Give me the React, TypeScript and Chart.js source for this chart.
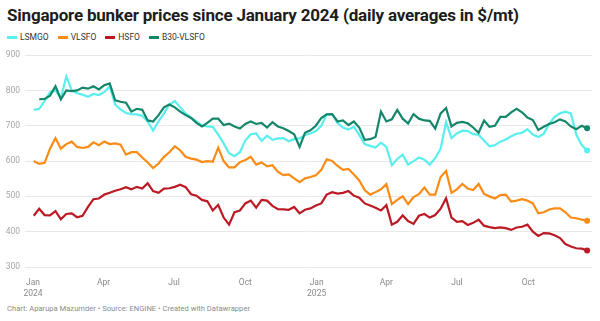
import React, { useEffect, useRef } from "react";
import { Chart, registerables } from "chart.js";

Chart.register(...registerables);

// days since 2024-01-01 (weekly samples)
const DAYS = [1, 8, 15, 22, 29, 36, 43, 50, 57, 64, 71, 78, 85, 92, 99, 106, 113, 120, 127, 134, 141, 148, 155, 162, 169, 176, 183, 190, 197, 204, 211, 218, 225, 232, 239, 246, 253, 260, 267, 274, 281, 288, 295, 302, 309, 316, 323, 330, 337, 344, 351, 358, 365, 372, 379, 386, 393, 400, 407, 414, 421, 428, 435, 442, 449, 456, 463, 470, 477, 484, 491, 498, 505, 512, 519, 526, 533, 540, 547, 554, 561, 568, 575, 582, 589, 596, 603, 610, 617, 624, 631, 638, 645, 652, 659, 666, 673, 680, 687, 694, 701, 708, 715];

const LSMGO = [745, 748, 770, 795, 800, 778, 840, 800, 792, 788, 782, 790, 787, 795, 812, 760, 746, 736, 733, 732, 728, 712, 686, 712, 735, 760, 770, 752, 735, 723, 712, 700, 698, 697, 675, 650, 622, 614, 625, 658, 676, 678, 657, 672, 660, 664, 665, 656, 662, 664, 674, 678, 685, 700, 733, 732, 708, 695, 689, 697, 674, 648, 643, 638, 652, 640, 588, 606, 618, 590, 600, 610, 604, 590, 608, 635, 710, 665, 678, 686, 685, 676, 674, 658, 642, 645, 655, 661, 670, 677, 680, 690, 675, 668, 677, 705, 725, 735, 740, 735, 675, 645, 630];

const VLSFO = [600, 592, 595, 635, 665, 635, 648, 655, 640, 637, 640, 653, 645, 655, 648, 650, 646, 618, 625, 625, 610, 596, 580, 593, 612, 625, 642, 630, 612, 607, 604, 597, 600, 598, 638, 600, 582, 582, 597, 603, 612, 590, 596, 585, 588, 570, 560, 562, 551, 540, 551, 555, 560, 575, 605, 600, 586, 575, 578, 562, 545, 518, 505, 512, 520, 535, 478, 490, 500, 478, 498, 506, 525, 505, 505, 555, 572, 510, 520, 535, 522, 518, 535, 507, 500, 494, 504, 505, 485, 488, 492, 488, 480, 452, 455, 463, 466, 466, 455, 440, 438, 434, 431];

const HSFO = [445, 465, 447, 446, 458, 435, 450, 452, 441, 445, 470, 492, 494, 505, 510, 516, 520, 526, 520, 527, 522, 537, 515, 510, 522, 523, 527, 533, 526, 506, 502, 490, 486, 460, 476, 440, 420, 455, 460, 480, 488, 468, 490, 488, 473, 464, 463, 462, 470, 452, 462, 466, 474, 480, 505, 512, 508, 510, 515, 502, 496, 480, 474, 468, 460, 475, 420, 428, 446, 430, 422, 445, 450, 440, 447, 465, 495, 440, 428, 430, 419, 425, 434, 417, 413, 410, 412, 410, 405, 412, 414, 420, 400, 388, 396, 395, 390, 382, 365, 358, 353, 352, 347];

const B30_VLSFO = [null, 775, 776, 785, 812, 775, 800, 798, 800, 808, 805, 812, 803, 815, 820, 772, 768, 765, 740, 748, 745, 715, 712, 730, 752, 760, 752, 740, 730, 722, 708, 698, 708, 720, 720, 702, 706, 698, 692, 705, 712, 705, 708, 695, 710, 698, 693, 685, 676, 640, 680, 687, 700, 722, 732, 733, 712, 715, 702, 712, 695, 660, 662, 668, 740, 712, 718, 745, 720, 706, 733, 720, 715, 714, 692, 735, 750, 698, 708, 711, 707, 695, 680, 715, 697, 700, 725, 725, 738, 748, 738, 723, 716, 688, 697, 705, 710, 718, 712, 698, 690, 700, 693];

const TICK_DAYS = [0, 91, 182, 274, 366, 456, 547, 639];
const TICK_LABELS = [["Jan", "2024"], "Apr", "Jul", "Oct", ["Jan", "2025"], "Apr", "Jul", "Oct"];
const Y_TICKS = [300, 400, 500, 600, 700, 800, 900];

const SERIES = [
  { name: "LSMGO", data: LSMGO, color: "#5aefee", order: 1 },
  { name: "VLSFO", data: VLSFO, color: "#fa8c16", order: 2 },
  { name: "HSFO", data: HSFO, color: "#bb1a24", order: 3 },
  { name: "B30-VLSFO", data: B30_VLSFO, color: "#14876b", order: 0 },
];

const FONT = "Roboto, 'Noto Sans', sans-serif";

export default function App() {
  const ref = useRef<HTMLCanvasElement | null>(null);

  useEffect(() => {
    if (!ref.current) return;
    const last = DAYS.length - 1;
    const chart = new Chart(ref.current, {
      type: "line",
      data: {
        datasets: SERIES.map((s) => ({
          label: s.name,
          data: DAYS.map((d, i) => ({ x: d, y: s.data[i] })),
          borderColor: s.color,
          backgroundColor: s.color,
          borderWidth: 2.2,
          tension: 0,
          order: s.order,
          pointRadius: (ctx: any) => (ctx.dataIndex === last ? 3 : 0),
          pointBorderWidth: 0,
          pointBackgroundColor: s.color,
          spanGaps: false,
        })),
      },
      options: {
        animation: false,
        responsive: false,
        maintainAspectRatio: false,
        layout: { padding: { top: 10, right: 8, left: 0, bottom: 0 } },
        plugins: { legend: { display: false }, tooltip: { enabled: false }, title: { display: false } },
        scales: {
          x: {
            type: "linear",
            min: -10.3,
            max: 721.3,
            grid: { display: false },
            border: { display: false },
            afterBuildTicks: (scale: any) => {
              scale.ticks = TICK_DAYS.map((v) => ({ value: v }));
            },
            afterFit: (scale: any) => {
              scale.height = 33;
            },
            ticks: {
              autoSkip: false,
              maxRotation: 0,
              padding: 3,
              color: "#8a8a8a",
              font: { family: FONT, size: 8.5, lineHeight: 1.25 },
              callback: (value: any) => {
                const i = TICK_DAYS.indexOf(Number(value));
                return i >= 0 ? (TICK_LABELS[i] as any) : "";
              },
            },
          },
          y: {
            min: 300,
            max: 900,
            afterBuildTicks: (scale: any) => {
              scale.ticks = Y_TICKS.map((v) => ({ value: v }));
            },
            afterFit: (scale: any) => {
              scale.width = 25;
            },
            grid: { color: "#e8e8e8", lineWidth: 1, drawTicks: false },
            border: { display: false },
            ticks: {
              padding: 5,
              color: "#a6a6a6",
              font: { family: FONT, size: 8.5 },
            },
          },
        },
      },
    } as any);
    return () => chart.destroy();
  }, []);

  return (
    <div style={{ position: "absolute", left: 0, top: 0, width: 600, height: 321, background: "#fff", fontFamily: FONT, overflow: "hidden" }}>
      <div style={{ position: "absolute", left: 7, top: 5, fontSize: 17, fontWeight: 700, color: "#1d1d1d", whiteSpace: "nowrap", letterSpacing: -0.2 }}>
        Singapore bunker prices since January 2024 (daily averages in $/mt)
      </div>
      <div style={{ position: "absolute", left: 7, top: 32, display: "flex", alignItems: "center", fontSize: 8.5, color: "#333", whiteSpace: "nowrap" }}>
        {SERIES.map((s) => (
          <div key={s.name} style={{ display: "flex", alignItems: "center", marginRight: 9 }}>
            <span style={{ display: "inline-block", width: 10, height: 3, background: s.color, marginRight: 3 }} />
            <span>{s.name}</span>
          </div>
        ))}
      </div>
      <canvas ref={ref} width={600} height={255} style={{ position: "absolute", left: 0, top: 45, width: 600, height: 255 }} />
      <div style={{ position: "absolute", left: 7, top: 304, fontSize: 7.6, color: "#8c8c8c", whiteSpace: "nowrap" }}>
        Chart: Aparupa Mazumder • Source: ENGINE • Created with Datawrapper
      </div>
    </div>
  );
}
